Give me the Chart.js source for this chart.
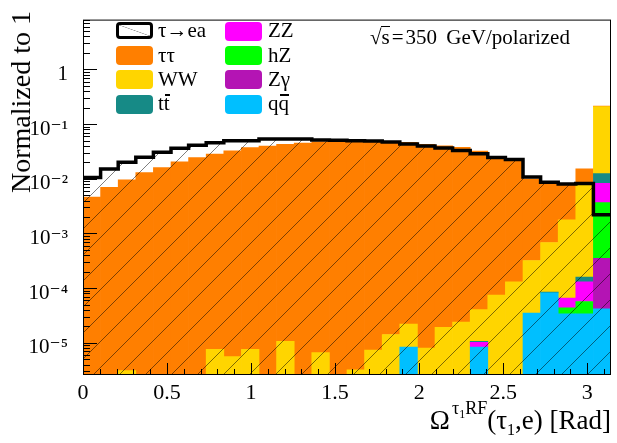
<!DOCTYPE html>
<html><head><meta charset="utf-8">
<script src="https://cdn.jsdelivr.net/npm/chart.js@4/dist/chart.umd.min.js"></script>
<style>
html,body{margin:0;padding:0;background:#fff;}
#wrap{position:relative;width:617px;height:443px;overflow:hidden;font-family:'Liberation Serif','DejaVu Serif',serif;color:#000;}
canvas{position:absolute;left:0;top:0;}
.t{position:absolute;white-space:nowrap;line-height:21px;font-size:21px;}
.box{position:absolute;border-radius:4px;width:37px;height:19px;}
.ob{position:relative;}
.ob::after{content:'';position:absolute;left:1px;right:0;top:3px;height:1.5px;background:#000;}
.os{position:relative;}
.os::after{content:'';position:absolute;left:-1px;right:0;top:1px;height:1.2px;background:#000;}
</style></head><body>
<div id="wrap">
<canvas id="c" width="617" height="443"></canvas>

<!-- legend -->
<div class="box" style="left:116px;top:22px;width:31px;height:11px;border:3px solid #000;background:linear-gradient(to top right,transparent calc(50% - 0.6px),#999 50%,transparent calc(50% + 0.6px)) #fff;"></div>
<div class="t" style="left:158px;top:19.9px;">τ→ea</div>
<div class="box" style="left:116px;top:46px;background:#ff7f00;"></div>
<div class="t" style="left:158px;top:44.9px;">ττ</div>
<div class="box" style="left:116px;top:70px;background:#ffd500;"></div>
<div class="t" style="left:158px;top:68.9px;">WW</div>
<div class="box" style="left:116px;top:94.5px;background:#168a86;"></div>
<div class="t" style="left:158px;top:93.4px;">t<span class="ob">t</span></div>

<div class="box" style="left:225px;top:21.5px;background:#ff00ff;"></div>
<div class="t" style="left:268px;top:19.9px;">ZZ</div>
<div class="box" style="left:225px;top:46px;background:#00ff00;"></div>
<div class="t" style="left:268px;top:44.9px;">hZ</div>
<div class="box" style="left:225px;top:70px;background:#b414b4;"></div>
<div class="t" style="left:268px;top:68.9px;">Zγ</div>
<div class="box" style="left:225px;top:94.5px;background:#00bfff;"></div>
<div class="t" style="left:268px;top:93.4px;">q<span class="ob">q</span></div>

<!-- annotation -->
<div class="t" style="left:370px;top:26.5px;font-size:21px;line-height:20px;">√<span class="os">s</span><span style="margin:0 2px">=</span>350<span style="margin-left:4px"> </span>GeV/polarized</div>

<!-- axis titles -->
<div class="t" style="left:21px;top:102px;font-size:28px;line-height:28px;transform:translate(-50%,-50%) rotate(-90deg);">Normalized to 1</div>
<div class="t" style="right:6px;top:407px;font-size:27px;line-height:27px;">Ω<span style="position:relative;top:-15px;font-size:18px;margin-left:2px;">τ<span style="position:relative;top:4px;font-size:12px;">1</span>RF</span>(τ<span style="position:relative;top:6px;font-size:16px;">1</span>,e) [Rad]</div>
</div>

<script>
// ---- data (30 uniform bins over [0, pi]) ----
const nBins = 30;
const xMin = 0, xMax = Math.PI;
const xTickLabels = ['0', '0.5', '1', '1.5', '2', '2.5', '3'];
const xTickValues = [0, 0.5, 1, 1.5, 2, 2.5, 3];
const yTickValues = [1, 1e-1, 1e-2, 1e-3, 1e-4, 1e-5];
const yTickLabels = ['1', '10⁻¹', '10⁻²', '10⁻³', '10⁻⁴', '10⁻⁵'];
const yMin = 2.58e-6, yMax = 8.14;

const signal = [0.0106,0.0151,0.0200,0.0248,0.0304,0.0360,0.0408,0.0456,0.0496,0.0496,
                0.0536,0.0536,0.0536,0.0512,0.0504,0.0496,0.0488,0.0472,0.0432,0.0398,
                0.0366,0.0328,0.0286,0.0246,0.0224,0.0108,0.0086,0.0080,0.0082,0.0022];
const tautau = [0.00464,0.00696,0.0096,0.0130,0.0160,0.0203,0.0244,0.0282,0.0323,0.0371,
                0.0398,0.0426,0.0450,0.0475,0.0488,0.0480,0.0480,0.0470,0.0465,0.0426,
                0.0400,0.0376,0.0320,0.0255,0.0223,0.0095,0.0073,0.0059,0.0069,0.0040];
const WW =     [0,0,3.1e-6,0,0,0,0,7.6e-6,5.6e-6,7.6e-6,
                0,1.06e-5,0,6.6e-6,0,3.2e-6,7.4e-6,1.42e-5,1.36e-5,8.0e-6,
                1.92e-5,2.4e-5,3.0e-5,7.5e-5,1.3e-4,2.85e-4,6.0e-4,1.7e-3,8.1e-3,0.196];
const ttbar =  [0,0,0,0,0,0,0,0,0,0, 0,0,0,0,0,0,0,0,0,0,
                0,0,4e-7,0,0,0,2.4e-6,0,2.9e-5,4.2e-3];
const ZZ =     [0,0,0,0,0,0,0,0,0,0, 0,0,0,0,0,0,0,0,0,0,
                0,0,1.8e-6,0,0,0,0,2.2e-5,7.4e-5,4.6e-3];
const hZ =     [0,0,0,0,0,0,0,0,0,0, 0,0,0,0,0,0,0,0,0,0,
                0,0,0,0,0,0,0,9.6e-6,2.3e-5,3.3e-3];
const Zgamma = [0,0,0,0,0,0,0,0,0,0, 0,0,0,0,0,0,0,0,0,0,
                0,0,0,0,0,0,0,0,0,3.1e-4];
const qqbar =  [0,0,0,0,0,0,0,0,0,0, 0,0,0,0,0,0,0,0,8.4e-6,0,
                0,0,8.4e-6,0,0,3.5e-5,8.2e-5,3.4e-5,3.4e-5,4.2e-5];

// ---- derived structures for the library ----
const binW = (xMax - xMin) / nBins;
const binLabels = Array.from({length: nBins}, (_, i) => (xMin + (i + 0.5) * binW).toFixed(3));
const signalSteps = Array.from({length: nBins + 1}, (_, i) => ({x: xMin + i * binW, y: signal[Math.min(i, nBins - 1)]}));
const nz = arr => arr.map(v => (v > 0 ? v : null));

function hatchPattern() {
  const s = 26, c = document.createElement('canvas');
  c.width = s; c.height = s;
  const g = c.getContext('2d');
  g.strokeStyle = 'rgba(0,0,0,0.5)';
  g.lineWidth = 1;
  g.beginPath();
  g.moveTo(-2, s + 2); g.lineTo(s + 2, -2);
  g.moveTo(-2, 2); g.lineTo(2, -2);
  g.moveTo(s - 2, s + 2); g.lineTo(s + 2, s - 2);
  g.stroke();
  return g.createPattern(c, 'repeat');
}

const frameTicks = {
  id: 'frameTicks',
  afterDatasetsDraw(chart) {
    const {ctx, chartArea: a, scales} = chart;
    const y = scales.y, x = scales.x2;
    ctx.save();
    ctx.strokeStyle = '#000';
    ctx.lineWidth = 1;
    ctx.beginPath();
    for (let e = -7; e <= 1; e++) {
      for (let m = 1; m <= 9; m++) {
        const v = m * Math.pow(10, e);
        if (v < y.min || v > y.max) continue;
        const py = Math.round(y.getPixelForValue(v)) + 0.5;
        const len = m === 1 ? 14 : 7;
        ctx.moveTo(a.left, py); ctx.lineTo(a.left + len, py);
      }
    }
    for (let i = 0; i <= 31; i++) {
      const v = i * 0.1;
      if (v > x.max) break;
      const px = Math.round(x.getPixelForValue(v)) + 0.5;
      const len = i % 5 === 0 ? 12 : 6;
      ctx.moveTo(px, a.bottom); ctx.lineTo(px, a.bottom - len);
    }
    ctx.stroke();
    ctx.strokeRect(a.left + 0.5, a.top + 0.5, a.right - a.left - 1, a.bottom - a.top - 1);
    ctx.restore();
  }
};

Chart.defaults.font.family = "'Liberation Serif','DejaVu Serif',serif";
Chart.defaults.color = '#000';

const barDs = (label, data, color) => ({
  type: 'bar', label, data: nz(data), backgroundColor: color, borderWidth: 0,
  barPercentage: 1, categoryPercentage: 1, grouped: false,
  xAxisID: 'x', yAxisID: 'y', order: 2
});

new Chart(document.getElementById('c'), {
  data: {
    labels: binLabels,
    datasets: [
      barDs('qq̄', qqbar, '#00bfff'),
      barDs('Zγ', Zgamma, '#b414b4'),
      barDs('hZ', hZ, '#00ff00'),
      barDs('ZZ', ZZ, '#ff00ff'),
      barDs('tt̄', ttbar, '#168a86'),
      barDs('WW', WW, '#ffd500'),
      barDs('ττ', tautau, '#ff7f00'),
      {
        type: 'line', label: 'τ→ea', data: signalSteps, xAxisID: 'x2', yAxisID: 'y',
        stepped: true, borderColor: '#000', borderWidth: 3.5, pointRadius: 0,
        fill: 'start', backgroundColor: hatchPattern(), order: 1
      }
    ]
  },
  options: {
    responsive: false, animation: false, devicePixelRatio: 1,
    layout: {padding: {top: 11, right: 6, left: 0, bottom: 0}},
    datasets: {bar: {barPercentage: 1, categoryPercentage: 1, grouped: false}},
    plugins: {legend: {display: false}, tooltip: {enabled: false}},
    scales: {
      x: {type: 'category', display: false, stacked: true},
      x2: {
        type: 'linear', position: 'bottom', min: xMin, max: xMax,
        grid: {display: false}, border: {display: false},
        afterBuildTicks: s => { s.ticks = xTickValues.map(v => ({value: v})); },
        afterFit: s => { s.height = 68; },
        ticks: {
          autoSkip: false, maxRotation: 0, padding: -3, font: {size: 22},
          callback: v => { const i = xTickValues.indexOf(v); return i >= 0 ? xTickLabels[i] : ''; }
        }
      },
      y: {
        type: 'logarithmic', stacked: true, min: yMin, max: yMax,
        grid: {display: false}, border: {display: false},
        afterFit: s => { s.width = 83; },
        ticks: {
          autoSkip: false, padding: 7, labelOffset: 5, font: {size: 21},
          callback: v => {
            const i = yTickValues.findIndex(t => Math.abs(t - v) / t < 1e-6);
            return i >= 0 ? yTickLabels[i] : '';
          }
        }
      }
    }
  },
  plugins: [frameTicks]
});
</script>
</body></html>
